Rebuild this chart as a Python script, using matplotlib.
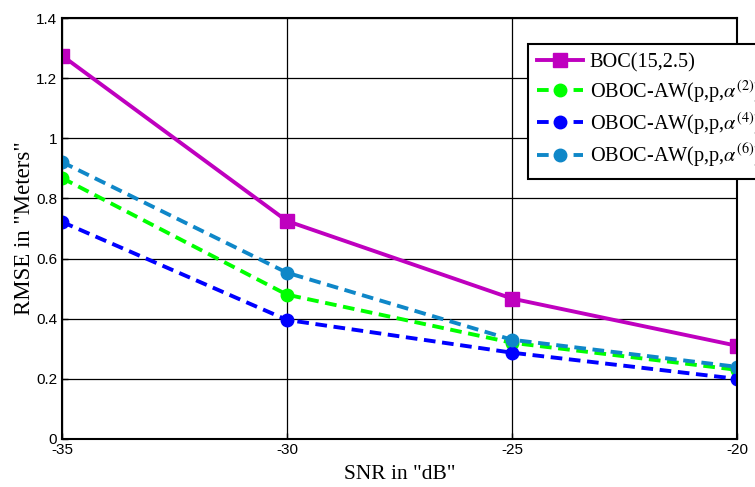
import numpy as np
import matplotlib
matplotlib.use("Agg")
import matplotlib.pyplot as plt

# data
snr = [-35, -30, -25, -20]
boc = [1.275, 0.725, 0.467, 0.310]
oboc2 = [0.868, 0.480, 0.320, 0.230]
oboc4 = [0.722, 0.396, 0.287, 0.200]
oboc6 = [0.921, 0.553, 0.330, 0.240]

labels = ['BOC(15,2.5)',
          r'OBOC-AW(p,p,$\alpha^{(2)}$)',
          r'OBOC-AW(p,p,$\alpha^{(4)}$)',
          r'OBOC-AW(p,p,$\alpha^{(6)}$)']

plt.rcParams['mathtext.fontset'] = 'stix'
plt.rcParams['axes.unicode_minus'] = False

fig = plt.figure(figsize=(7.55, 4.87), dpi=100)
ax = fig.add_axes([0.0821, 0.0986, 0.8940, 0.8644])

ax.plot(snr, boc, '-s', color='#BF00BF', lw=2.8, ms=10,
        markerfacecolor='#BF00BF', label=labels[0])
ax.plot(snr, oboc2, '--o', color='#00FF00', lw=2.8, ms=9,
        dashes=(3.0, 1.7), label=labels[1])
ax.plot(snr, oboc4, '--o', color='#0000FF', lw=2.8, ms=9,
        dashes=(3.0, 1.7), label=labels[2])
ax.plot(snr, oboc6, '--o', color='#0F87C8', lw=2.8, ms=9,
        dashes=(3.0, 1.7), label=labels[3])

ax.set_xlim(-35, -20)
ax.set_ylim(0, 1.4)
ax.set_xticks([-35, -30, -25, -20])
ax.set_yticks(np.arange(0, 1.41, 0.2))
ax.set_yticklabels(['0', '0.2', '0.4', '0.6', '0.8', '1', '1.2', '1.4'])
ax.grid(True, color='black', linestyle='-', linewidth=0.9)
ax.tick_params(direction='in', labelsize=11, length=4, width=1)
ax.tick_params(axis='x', pad=3)
for lab in ax.get_xticklabels() + ax.get_yticklabels():
    lab.set_family('Liberation Sans')
for s in ax.spines.values():
    s.set_linewidth(1.5)

ax.set_xlabel('SNR in "dB"', family='Liberation Serif', fontsize=15.5, labelpad=6)
ax.set_ylabel('RMSE in "Meters"', family='Liberation Serif', fontsize=16.5, labelpad=1)

leg = ax.legend(loc='upper left', bbox_to_anchor=(0.690, 0.938),
                prop={'family': 'Liberation Serif', 'size': 14.6},
                fancybox=False, framealpha=1, edgecolor='black',
                handlelength=2.3, handletextpad=0.3, borderpad=0.45,
                borderaxespad=0, labelspacing=0.25)
leg.get_frame().set_linewidth(1.5)

fig.savefig('out.png', dpi=100)
